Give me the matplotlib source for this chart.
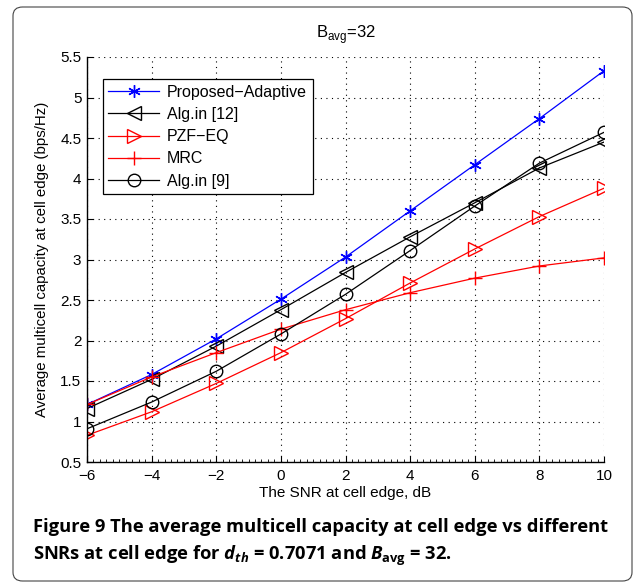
import matplotlib
matplotlib.use("Agg")
import matplotlib.pyplot as plt
from matplotlib.patches import FancyBboxPatch
from matplotlib.ticker import MultipleLocator

plt.rcParams['font.family'] = ['Liberation Sans', 'DejaVu Sans']
plt.rcParams['mathtext.fontset'] = 'custom'
plt.rcParams['mathtext.it'] = 'Open Sans:italic:bold'
plt.rcParams['mathtext.rm'] = 'Open Sans:bold'
plt.rcParams['mathtext.bf'] = 'Open Sans:bold'
plt.rcParams['mathtext.sf'] = 'Liberation Sans'

snr = [-6, -4, -2, 0, 2, 4, 6, 8, 10]
proposed = [1.21, 1.58, 2.02, 2.51, 3.03, 3.60, 4.17, 4.74, 5.33]
alg12 = [1.16, 1.52, 1.93, 2.38, 2.84, 3.28, 3.70, 4.13, 4.45]
pzf = [0.83, 1.12, 1.47, 1.85, 2.27, 2.71, 3.13, 3.53, 3.88]
mrc = [1.21, 1.55, 1.85, 2.14, 2.38, 2.59, 2.77, 2.92, 3.02]
alg9 = [0.91, 1.24, 1.62, 2.08, 2.57, 3.11, 3.66, 4.19, 4.57]

xticks = [-6, -4, -2, 0, 2, 4, 6, 8, 10]
yticks = [0.5, 1, 1.5, 2, 2.5, 3, 3.5, 4, 4.5, 5, 5.5]

fig = plt.figure(figsize=(6.35, 5.84), dpi=100)
border = FancyBboxPatch((13/635, 1 - 581/584), (632-13)/635, (581-7)/584,
                        boxstyle="round,pad=0,rounding_size=0.015",
                        transform=fig.transFigure, fill=False,
                        edgecolor='#444444', linewidth=0.8)
fig.patches.append(border)

ax = fig.add_axes([87/635, 1 - 462/584, (604-87)/635, (462-57)/584])

ax.plot(snr, proposed, color='blue', marker=(6, 2, 0), ms=9, mfc='blue', mec='blue',
        mew=1.0, lw=0.9, label='Proposed\u2212Adaptive')
ax.plot(snr, alg12, color='black', marker='<', ms=10, mfc='none', mec='black', lw=0.9,
        label='Alg.in [12]')
ax.plot(snr, pzf, color='red', marker='>', ms=10, mfc='none', mec='red', lw=0.9,
        label='PZF\u2212EQ')
ax.plot(snr, mrc, color='red', marker='+', ms=10, mec='red', lw=0.9,
        label='MRC')
ax.plot(snr, alg9, color='black', marker='o', ms=9, mfc='none', mec='black', lw=0.9,
        label='Alg.in [9]')

ax.set_xlim(-6, 10)
ax.set_ylim(0.5, 5.5)
ax.set_xticks(xticks)
ax.set_xticklabels(['\u2212' + str(-t) if t < 0 else str(t) for t in xticks])
ax.set_yticks(yticks)
ax.set_yticklabels(['%g' % t for t in yticks])
ax.xaxis.set_minor_locator(MultipleLocator(0.2))
ax.tick_params(axis='both', which='major', direction='in', length=4, labelsize=11,
               width=0.8)
ax.tick_params(axis='x', which='major', pad=5)
ax.tick_params(axis='y', which='major', pad=4)
ax.tick_params(axis='x', which='minor', direction='in', length=2, width=0.6)
ax.grid(True, which='major', linestyle=(0, (1, 4)), color='black', linewidth=0.8)
ax.spines['top'].set_visible(False)
ax.spines['right'].set_visible(False)
for s in ['left', 'bottom']:
    ax.spines[s].set_linewidth(1.0)

ax.set_xlabel('The SNR at cell edge, dB', fontsize=11, labelpad=2)
ax.set_ylabel('Average multicell capacity at cell edge (bps/Hz)', fontsize=10.8, labelpad=8)
ax.set_title(r'$\mathsf{B}_{\mathsf{avg}}$=32', fontsize=12, pad=14)

leg = ax.legend(loc='upper left', bbox_to_anchor=(0.03, 0.945), fontsize=11.5,
                frameon=True, fancybox=False, edgecolor='black', framealpha=1,
                handlelength=3.2, borderpad=0.35, labelspacing=0.45, handletextpad=0.5,
                borderaxespad=0)
leg.get_frame().set_linewidth(0.9)

fig.text(33/635, 1 - 527/584, 'Figure 9 The average multicell capacity at cell edge vs different',
         fontsize=13.2, fontweight='bold', family='Open Sans', va='center', ha='left')
fig.text(33/635, 1 - 556/584,
         r'SNRs at cell edge for $d_{th}$ = 0.7071 and $B_{\mathrm{avg}}$ = 32.',
         fontsize=13.2, fontweight='bold', family='Open Sans', va='center', ha='left')

fig.savefig('out.png', dpi=100)
